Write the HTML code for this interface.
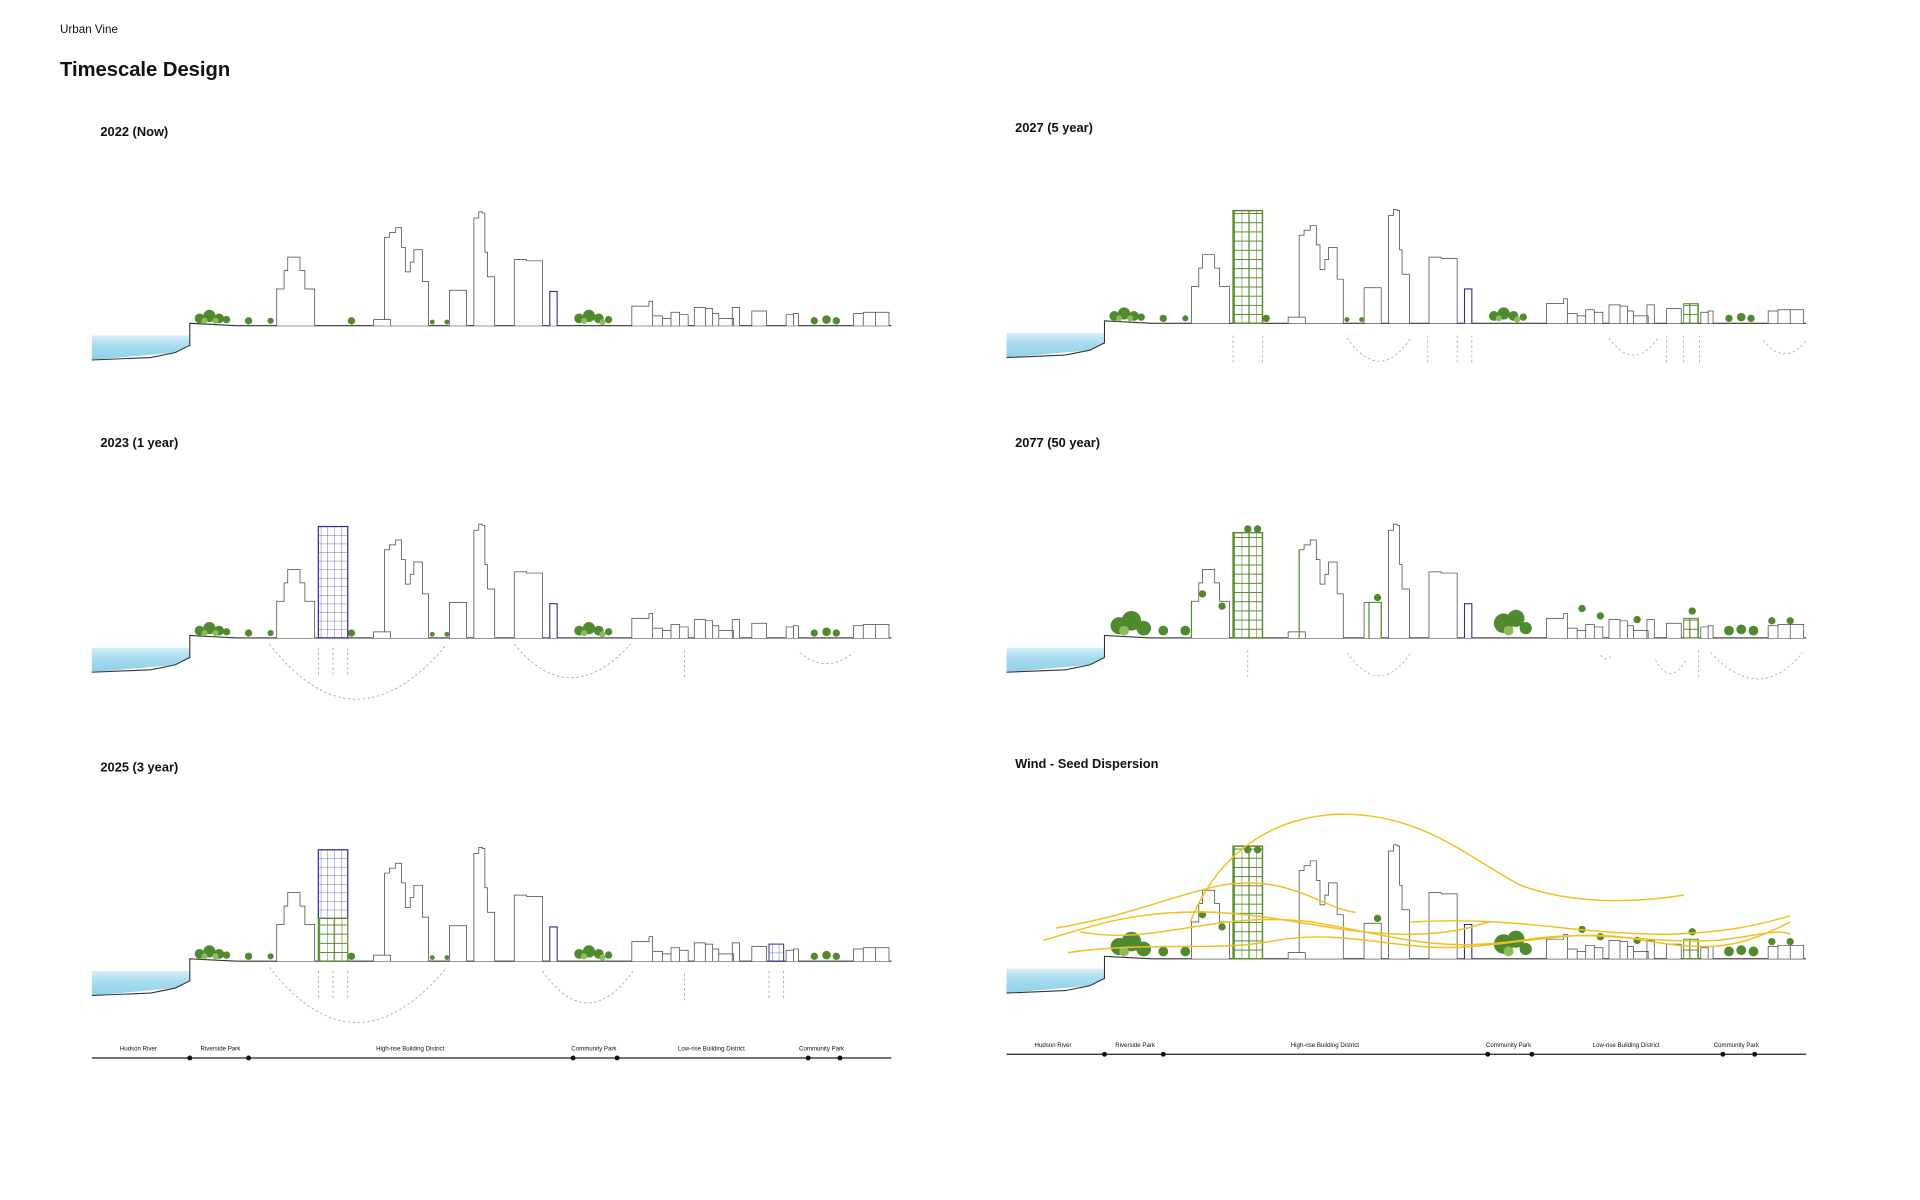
<!DOCTYPE html>
<html><head><meta charset="utf-8"><style>
html,body{margin:0;padding:0;background:#fff;}
svg{display:block}
text{font-family:"Liberation Sans",sans-serif;fill:#111}
</style></head><body>
<svg width="1920" height="1200" viewBox="0 0 1568 980" xmlns="http://www.w3.org/2000/svg">
<defs>
<linearGradient id="wg" x1="0" y1="0" x2="0" y2="1"><stop offset="0" stop-color="#d6eef8"/><stop offset="0.4" stop-color="#a9dcef"/><stop offset="1" stop-color="#8fd0ea"/></linearGradient>
<pattern id="gridB" width="5.5" height="7" patternUnits="userSpaceOnUse"><path d="M0 0H5.5M0 0V7" stroke="#3a3fa0" stroke-width="0.6" fill="none"/></pattern>
<pattern id="gridG" width="12" height="7.5" patternUnits="userSpaceOnUse"><path d="M0 0H12" stroke="#5a8a30" stroke-width="1.6"/><path d="M0 0V7.5M6 0V7.5" stroke="#5a8a30" stroke-width="1"/></pattern>
<g id="base">
 <path d="M0,8 H80 V16 L68,22 L0,28 Z" fill="url(#wg)"/>
 <path d="M0,28 L48,26 L68,22 L80,16 V-2 L118,0 H653" fill="none" stroke="#333" stroke-width="0.9"/>
 <g fill="#fff" stroke="#444" stroke-width="0.6">
  <path d="M151,0 V-30 H157 V-45 H160 V-56 H170 V-45 H174 V-30 H182 V0"/>
  <path d="M239,0 V-72 H243 V-76 H248 V-80 H253 V-64 H256 V-44 H260 V-52 H263 V-62 H270 V-36 H275 V0"/>
  <path d="M292,0 V-29 H306 V0"/>
  <path d="M312,0 V-88 H316 V-93 H319 V-92 H321 V-60 H323 V-40 H329 V0"/>
  <path d="M345,0 V-54 H355 V-53 H368 V0"/>
  <path d="M230,0 V-5 H244 V0"/>
  <path d="M441,0 V-16 H455 V-20 H458 V0 M458,0 V-8 H466 V0 M466,0 V-6 H473 V0 M473,0 V-11 H480 V0 M480,0 V-9 H487 V0 M492,0 V-15 H501 V0 M501,0 V-14 H507 V0 M507,0 V-10 H512 V0 M512,0 V-6 H524 V0 M523,0 V-15 H529 V0 M539,0 V-12 H551 V0 M567,0 V-9 H573 V0 M573,0 V-10 H577 V0 M622,0 V-10 H630 V0 M630,0 V-11 H640 V0 M640,0 V-11 H651 V0"/>
 </g>
 <path d="M374,0 V-28 H380 V0" fill="#fff" stroke="#2a2f90" stroke-width="0.9"/>
</g>
<g id="trees">
 <g fill="#4f8a2e"><circle cx="88" cy="-6" r="4"/><circle cx="96" cy="-8" r="5"/><circle cx="104" cy="-6" r="4"/><circle cx="110" cy="-5" r="3"/><circle cx="128" cy="-4" r="3"/><circle cx="146" cy="-4" r="2.5"/><circle cx="212" cy="-4" r="3"/><circle cx="278" cy="-3" r="2"/><circle cx="290" cy="-3" r="2"/><circle cx="398" cy="-6" r="4"/><circle cx="406" cy="-8" r="5"/><circle cx="414" cy="-6" r="4"/><circle cx="422" cy="-5" r="3"/><circle cx="590" cy="-4" r="3"/><circle cx="600" cy="-5" r="3.5"/><circle cx="608" cy="-4" r="3"/></g>
 <g fill="#8cbc5a"><circle cx="92" cy="-4" r="2.5"/><circle cx="101" cy="-4" r="2.5"/><circle cx="402" cy="-4" r="2.5"/><circle cx="417" cy="-3" r="2.5"/></g>
</g>
<g id="bigtrees">
 <g fill="#4f8a2e"><circle cx="92" cy="-10" r="7"/><circle cx="102" cy="-14" r="8"/><circle cx="112" cy="-8" r="6"/><circle cx="128" cy="-6" r="4"/><circle cx="146" cy="-6" r="4"/><circle cx="406" cy="-12" r="8"/><circle cx="416" cy="-16" r="7"/><circle cx="424" cy="-8" r="5"/><circle cx="590" cy="-6" r="4"/><circle cx="600" cy="-7" r="4"/><circle cx="610" cy="-6" r="4"/><circle cx="197" cy="-89" r="3"/><circle cx="205" cy="-89" r="3"/><circle cx="303" cy="-33" r="3"/><circle cx="470" cy="-24" r="3"/><circle cx="485" cy="-18" r="3"/><circle cx="515" cy="-15" r="3"/><circle cx="560" cy="-22" r="3"/><circle cx="625" cy="-14" r="3"/><circle cx="640" cy="-14" r="3"/><circle cx="160" cy="-36" r="3"/><circle cx="176" cy="-26" r="3"/></g>
 <g fill="#8cbc5a"><circle cx="96" cy="-6" r="4"/><circle cx="410" cy="-6" r="4"/></g>
</g>
<g id="axis">
 <line x1="0" y1="0" x2="653" y2="0" stroke="#222" stroke-width="1"/>
 <g fill="#111"><circle cx="80" cy="0" r="2"/><circle cx="128" cy="0" r="2"/><circle cx="393" cy="0" r="2"/><circle cx="429" cy="0" r="2"/><circle cx="585" cy="0" r="2"/><circle cx="611" cy="0" r="2"/></g>
 <g font-size="5" text-anchor="middle"><text x="38" y="-6">Hudson River</text><text x="105" y="-6">Riverside Park</text><text x="260" y="-6">High-rise Building District</text><text x="410" y="-6">Community Park</text><text x="506" y="-6">Low-rise Building District</text><text x="596" y="-6">Community Park</text></g>
</g>
</defs>

<text x="49" y="27" font-size="9.5" fill="#222">Urban Vine</text>
<text x="49" y="62" font-size="16.5" font-weight="bold">Timescale Design</text>
<g font-size="10.5" font-weight="bold">
<text x="82" y="111">2022 (Now)</text><text x="829" y="108">2027 (5 year)</text>
<text x="82" y="365">2023 (1 year)</text><text x="829" y="365">2077 (50 year)</text>
<text x="82" y="630">2025 (3 year)</text><text x="829" y="627">Wind - Seed Dispersion</text>
</g>

<!-- 2022 -->
<g transform="translate(75,266)"><use href="#base"/><use href="#trees"/></g>

<!-- 2023 -->
<g transform="translate(75,521)"><use href="#base"/><use href="#trees"/>
 <rect x="185" y="-91" width="24" height="91" fill="url(#gridB)" stroke="#2a2f90" stroke-width="1"/>
 <g fill="none" stroke="#999" stroke-width="0.6" stroke-dasharray="2,2">
  <path d="M145,5 Q215,95 290,5"/><path d="M345,5 Q390,60 440,5"/><path d="M578,12 Q600,30 622,12"/>
  <path d="M185,30V8M197,30V8M209,30V8M484,10V32"/></g>
</g>

<!-- 2025 -->
<g transform="translate(75,785)"><use href="#base"/><use href="#trees"/>
 <rect x="185" y="-91" width="24" height="56" fill="url(#gridB)" stroke="#2a2f90" stroke-width="1"/>
 <rect x="185" y="-35" width="24" height="35" fill="url(#gridG)" stroke="#5a8a30" stroke-width="1"/>
 <rect x="553" y="-14" width="12" height="14" fill="url(#gridB)" stroke="#2a2f90" stroke-width="0.8"/>
 <g fill="none" stroke="#999" stroke-width="0.6" stroke-dasharray="2,2">
  <path d="M145,5 Q215,95 290,5"/><path d="M368,8 Q405,60 442,8"/>
  <path d="M185,30V8M197,30V8M209,30V8M484,10V32M553,30V8M565,30V8"/></g>
 <use href="#axis" transform="translate(0,79)"/>
</g>

<!-- 2027 -->
<g transform="translate(822,264)"><use href="#base"/><use href="#trees"/>
 <rect x="185" y="-92" width="24" height="92" fill="url(#gridG)" stroke="#5a8a30" stroke-width="1.2"/>
 <rect x="553" y="-16" width="12" height="16" fill="url(#gridG)" stroke="#5a8a30" stroke-width="0.8"/>
 <g fill="none" stroke="#a8a870" stroke-width="0.6" stroke-dasharray="2,2">
  <path d="M278,12 Q305,50 330,12"/><path d="M492,12 Q512,40 532,12"/><path d="M618,14 Q636,36 653,14"/>
  <path d="M185,10V34M209,10V34M344,10V34M368,10V34M380,10V34M539,10V34M553,10V34M566,10V34"/></g>
</g>

<!-- 2077 -->
<g transform="translate(822,521)"><use href="#base"/><use href="#bigtrees"/>
 <rect x="185" y="-86" width="24" height="86" fill="url(#gridG)" stroke="#5a8a30" stroke-width="1.2"/>
 <rect x="553" y="-16" width="12" height="16" fill="url(#gridG)" stroke="#5a8a30" stroke-width="0.8"/>
 <path d="M151,0 V-30 M239,0V-72 M296,0V-29H306V0" fill="none" stroke="#5a8a30" stroke-width="1"/>
 <g fill="none" stroke="#a8a870" stroke-width="0.6" stroke-dasharray="2,2">
  <path d="M278,12 Q305,50 330,12"/><path d="M530,18 Q542,40 555,18"/><path d="M575,12 Q615,55 650,12"/><path d="M485,14 Q490,20 494,14"/>
  <path d="M197,10V32M565,10V34"/></g>
</g>

<!-- Wind -->
<g transform="translate(822,783)"><use href="#base"/><use href="#bigtrees"/>
 <rect x="185" y="-92" width="24" height="92" fill="url(#gridG)" stroke="#5a8a30" stroke-width="1.2"/>
 <rect x="553" y="-16" width="12" height="16" fill="url(#gridG)" stroke="#5a8a30" stroke-width="0.8"/>
 <g fill="none" stroke="#f0c020" stroke-width="1.2">
  <path d="M150,-30 C170,-80 210,-115 270,-118 C340,-120 380,-80 420,-60 C460,-45 510,-45 553,-52"/>
  <path d="M40,-25 C100,-35 130,-50 175,-60 C230,-70 260,-40 285,-38"/>
  <path d="M30,-15 C80,-30 110,-40 170,-38 C230,-35 270,-20 330,-20 C370,-20 390,-30 395,-30"/>
  <path d="M50,-5 C120,-15 170,-5 220,-15 C280,-25 320,-5 380,-10 C440,-15 470,-25 520,-15 C580,-5 600,-10 640,-30"/>
  <path d="M60,-22 C120,-10 170,-40 250,-30 C320,-18 350,-5 420,-15 C480,-25 520,-12 580,-15 C610,-18 630,-25 640,-20"/>
  <path d="M330,-30 C420,-35 460,-20 540,-20 C600,-22 620,-30 640,-35"/>
 </g>
 <use href="#axis" transform="translate(0,78)"/>
</g>
</svg>
</body></html>
